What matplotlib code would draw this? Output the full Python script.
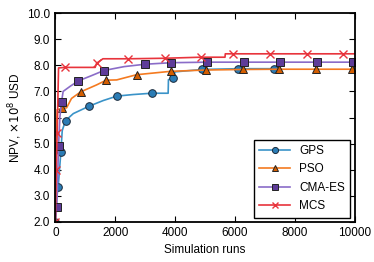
import numpy as np
import matplotlib
matplotlib.use("Agg")
import matplotlib.pyplot as plt

plt.rcParams['font.family'] = ['Liberation Sans', 'DejaVu Sans']
plt.rcParams['mathtext.fontset'] = 'dejavusans'

# optimisation history: simulation runs vs NPV (x1e8 USD)
gps_x = [0, 40, 94, 184, 230, 340, 600, 1120, 1600, 2057, 2600, 3217, 3770, 3780, 3940, 4000, 4910, 6100, 7320, 7400]
gps_y = [2.0, 2.9, 3.33, 4.67, 5.5, 5.88, 6.15, 6.43, 6.65, 6.82, 6.88, 6.93, 6.93, 7.45, 7.5, 7.75, 7.84, 7.87, 7.87, 7.87]
gps_marks = [0, 2, 3, 5, 7, 9, 11, 14, 16, 17, 18]

pso_x = [0, 30, 60, 230, 375, 540, 843, 1380, 1700, 2050, 2715, 3860, 5050, 6270, 7485, 8710, 9930, 10000]
pso_y = [2.0, 5.3, 6.3, 6.35, 6.37, 6.73, 6.98, 7.25, 7.43, 7.44, 7.64, 7.77, 7.82, 7.84, 7.85, 7.85, 7.85, 7.85]
pso_marks = [0, 3, 6, 8, 10, 11, 12, 13, 14, 15, 16]

cma_x = [0, 50, 107, 150, 207, 260, 500, 763, 1200, 1620, 2300, 2990, 3880, 5080, 6300, 7510, 8730, 9940, 10000]
cma_y = [2.0, 2.59, 4.9, 6.0, 6.6, 7.0, 7.2, 7.4, 7.6, 7.8, 7.95, 8.04, 8.1, 8.12, 8.12, 8.12, 8.12, 8.12, 8.12]
cma_marks = [1, 2, 4, 7, 9, 11, 12, 13, 14, 15, 16, 17]

mcs_x = [0, 30, 60, 107, 330, 1330, 1380, 1590, 2435, 3660, 4855, 5670, 5680, 5950, 7170, 8400, 9600, 10000]
mcs_y = [2.0, 4.0, 5.4, 7.9, 7.92, 7.92, 8.08, 8.25, 8.25, 8.27, 8.31, 8.31, 8.44, 8.44, 8.44, 8.44, 8.44, 8.44]
mcs_marks = [0, 1, 2, 4, 6, 8, 9, 10, 13, 14, 15, 16]

fig = plt.figure(figsize=(3.74, 2.62), dpi=100)
ax = fig.add_axes([0.148, 0.153, 0.800, 0.797])

ax.plot(gps_x, gps_y, color='#3a93c8', lw=1.2, marker='o', ms=5.5,
        mfc='#2b7cb5', mec='#1a2a3a', mew=0.7, markevery=gps_marks, label='GPS')
ax.plot(pso_x, pso_y, color='#f47a20', lw=1.2, marker='^', ms=5.5,
        mfc='#d55e00', mec='#222222', mew=0.7, markevery=pso_marks, label='PSO')
ax.plot(cma_x, cma_y, color='#8a6cc8', lw=1.2, marker='s', ms=5.5,
        mfc='#5e3c99', mec='#222222', mew=0.7, markevery=cma_marks, label='CMA-ES')
ax.plot(mcs_x, mcs_y, color='#e8343c', lw=1.2, marker='x', ms=5.5,
        mec='#e8343c', mew=1.0, markevery=mcs_marks, label='MCS')

ax.set_xlim(0, 10000)
ax.set_ylim(2.0, 10.0)
ax.set_xticks(np.arange(0, 10001, 2000))
ax.set_yticks(np.arange(2.0, 10.01, 1.0))
ax.set_yticklabels(['%.1f' % v for v in np.arange(2.0, 10.01, 1.0)])
ax.tick_params(direction='in', top=True, right=True, length=4, width=0.8,
               labelsize=8.5, pad=4)
for s in ax.spines.values():
    s.set_linewidth(1.3)

ax.set_xlabel('Simulation runs', fontsize=8.5, labelpad=3)
ax.set_ylabel(r'NPV, $\times10^8$ USD', fontsize=8.5, labelpad=2)

leg = ax.legend(loc='lower right', fontsize=8.5, frameon=True, fancybox=False,
                edgecolor='black', framealpha=1, borderpad=0.45, labelspacing=0.55,
                handlelength=2.6, borderaxespad=0.35, markerscale=0.8)
leg.get_frame().set_linewidth(1.0)

fig.savefig('out.png', dpi=100)
